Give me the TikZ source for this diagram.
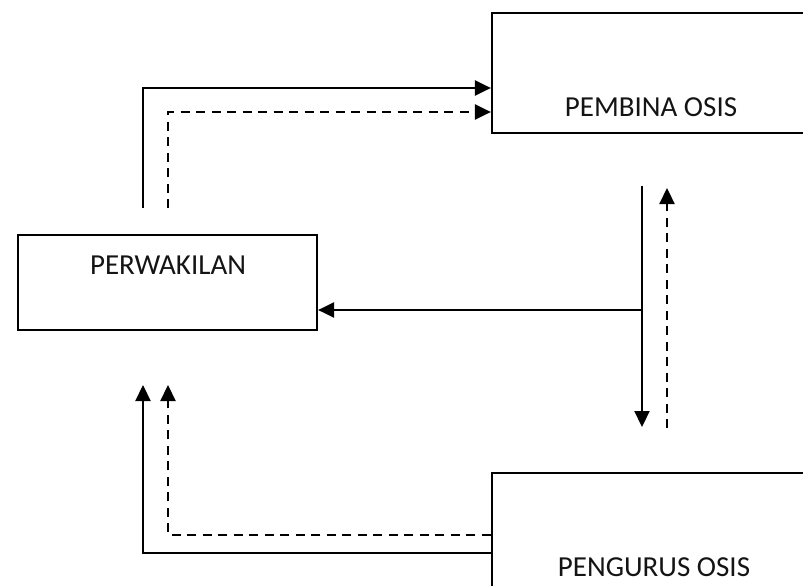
\documentclass[tikz,border=0pt]{standalone}
\usepackage{fontspec}
\setmainfont{Carlito}
\usetikzlibrary{arrows.meta}
\begin{document}
\begin{tikzpicture}[x=1pt,y=-1pt,
  box/.style={draw=black,line width=2.2pt,rectangle,inner sep=0pt},
  lbl/.style={font=\fontsize{29}{33}\selectfont,text=black!92,inner sep=0pt},
  conn/.style={line width=2.2pt,-{Triangle[length=16pt,width=15pt]}},
  dconn/.style={conn,dash pattern=on 9pt off 6.5pt}]
\useasboundingbox (0,0) rectangle (803,586);
\clip (0,0) rectangle (803,586);
% boxes
\node[box,minimum width=338pt,minimum height=120pt] (pembina) at (661,73) {};
\node[lbl] (pembinaT) at (651,107) {PEMBINA OSIS};
\node[box,minimum width=299pt,minimum height=95pt] (perwakilan) at (167.5,282.5) {};
\node[lbl] (perwakilanT) at (168,265) {PERWAKILAN};
\node[box,minimum width=338pt,minimum height=147pt] (pengurus) at (661,546.5) {};
\node[lbl] (pengurusT) at (654,567) {PENGURUS OSIS};
% free ends
\coordinate (s1) at (143,208);
\coordinate (d1) at (168,208);
\coordinate (s2) at (642,186);
\coordinate (s2b) at (642,427);
\coordinate (j) at (642,310);
\coordinate (d2) at (667,428);
\coordinate (d2b) at (667,188);
\coordinate (s3) at (143,385);
\coordinate (d3) at (168,385);
% top arrows
\draw[conn] (s1) |- (pembina.west |- 0,88);
\draw[dconn] (d1) |- (pembina.west |- 0,112);
% right
\draw[conn] (s2) -- (s2b);
\draw[conn] (j) -- (perwakilan.east |- j);
\draw[dconn] (d2) -- (d2b);
% bottom
\draw[conn] (pengurus.west |- 0,553) -| (s3);
\draw[dconn] (pengurus.west |- 0,535) -| (d3);
\end{tikzpicture}
\end{document}
